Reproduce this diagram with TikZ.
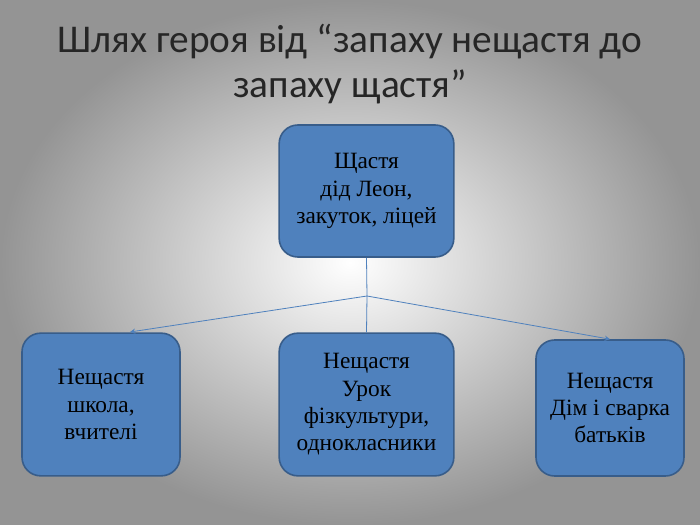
\documentclass[tikz,border=0pt]{standalone}
\usepackage{fontspec}
\setmainfont{Liberation Serif}
\newfontfamily\titlefont{Carlito}
\usetikzlibrary{arrows.meta}
\definecolor{boxfill}{HTML}{4F81BD}
\definecolor{boxline}{HTML}{385D8A}
\definecolor{titlecol}{HTML}{262626}
\tikzset{
  box/.style={draw=boxline, line width=1.2pt, fill=boxfill, rounded corners=14pt, align=center, font=\fontsize{17.5}{20.5}\selectfont, text=black, inner sep=0pt},
  conn/.style={draw=boxfill, line width=0.6pt},
  arr/.style={conn, -{Stealth[length=4pt,width=4pt]}}
}
\begin{document}
\begin{tikzpicture}[x=0.75pt,y=-0.75pt]
\useasboundingbox (0,0) rectangle (700,525);
\shade[inner color=white, outer color=black!42] (0,0) rectangle (700,525);
\node[font=\titlefont\fontsize{29.5}{34}\selectfont, text=titlecol, align=center] (title) at (350,64) {Шлях героя від “запаху нещастя до\\запаху щастя”};
\node[box, minimum width=131pt, minimum height=99pt] (top) at (366.5,191) {Щастя\\дід Леон,\\закуток, ліцей};
\node[box, minimum width=118.5pt, minimum height=107pt] (left) at (101,404.5) {Нещастя\\школа,\\вчителі};
\node[box, minimum width=131pt, minimum height=107pt] (mid) at (366.5,404.5) {Нещастя\\Урок\\фізкультури,\\однокласники};
\node[box, minimum width=111pt, minimum height=102pt] (right) at (610,408) {Нещастя\\Дім і сварка\\батьків};
\coordinate (j) at (367,296);
\coordinate (lt) at (130,332);
\draw[conn] (top.south) -- (j);
\draw[conn] (j) -- (mid.north);
\draw[arr] (j) -- (lt);
\draw[arr] (j) -- (right.north);
\end{tikzpicture}
\end{document}
